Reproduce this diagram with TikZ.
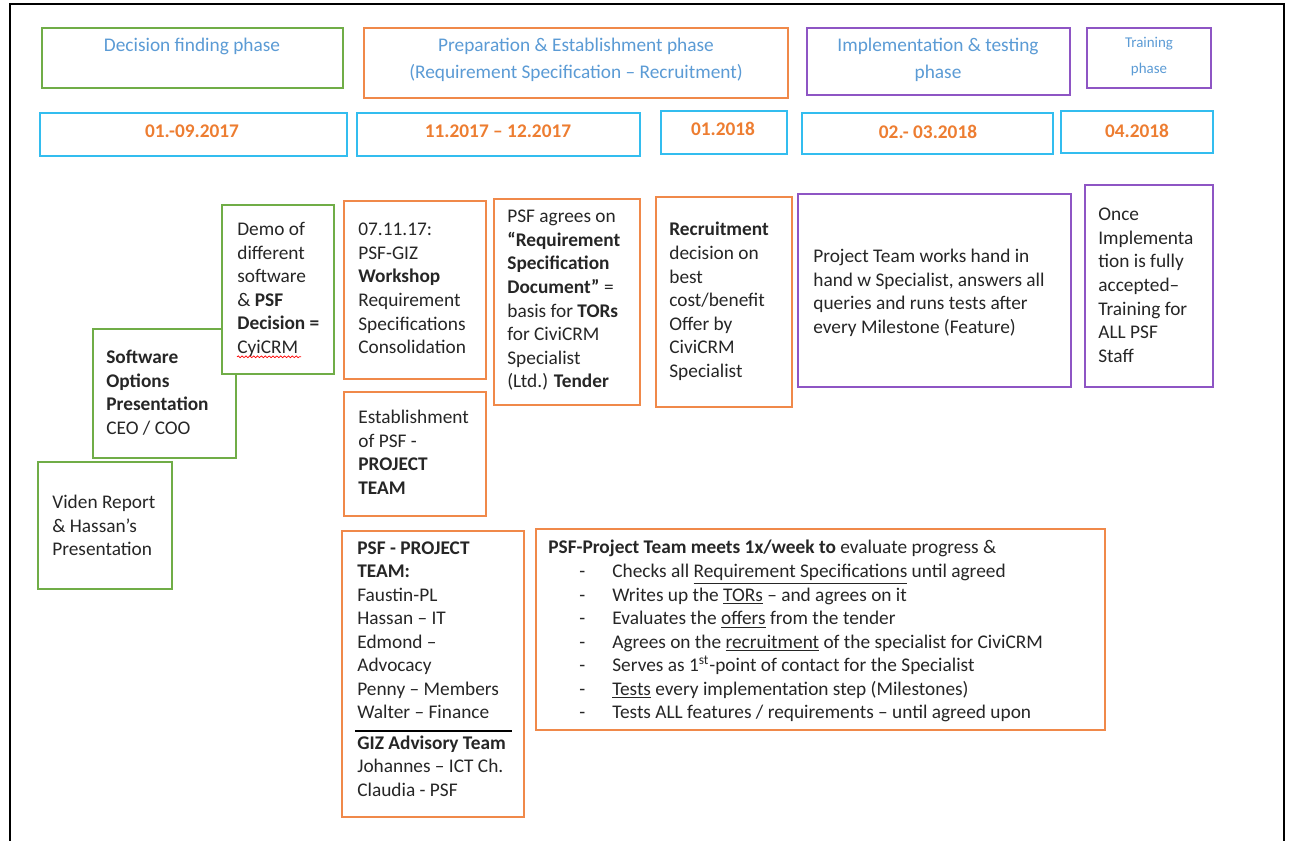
\documentclass[tikz,border=0pt]{standalone}
\usepackage{fontspec}
\setmainfont{Carlito}
\usepackage{tikz}
\usetikzlibrary{decorations.pathmorphing}

\definecolor{boxgreen}{HTML}{70AD47}
\definecolor{boxorange}{HTML}{F0894A}
\definecolor{boxpurple}{HTML}{8E55C4}
\definecolor{boxcyan}{HTML}{33BDEF}
\definecolor{headblue}{HTML}{5B9BD5}
\definecolor{dateorange}{HTML}{ED7D31}
\definecolor{textgray}{HTML}{262626}

\newcommand{\meetitem}{\makebox[1.28cm][l]{\hspace{0.62cm}-}}

\begin{document}
\begin{tikzpicture}[x=0.02cm,y=-0.02cm,
	greenbox/.style={draw=boxgreen,line width=1pt,fill=white},
	orangebox/.style={draw=boxorange,line width=1pt,fill=white},
	purplebox/.style={draw=boxpurple,line width=1pt,fill=white},
	datebox/.style={draw=boxcyan,line width=1pt},
	txt/.style={anchor=north west,inner sep=0pt,align=left,text=textgray,font=\fontsize{11}{13.4}\selectfont},
	phasetxt/.style={anchor=north,inner sep=0pt,align=center,text=headblue,font=\fontsize{11}{15.3}\selectfont},
	datetxt/.style={inner sep=0pt,text=dateorange,font=\fontsize{11}{13}\selectfont\bfseries}]
	  \useasboundingbox (0,0) rectangle (1290,840);
	  \draw[line width=1.6pt] (10,845) -- (10,4) -- (1284,4) -- (1284,845);
	  \draw[greenbox] (42,28) rectangle (343,88);
	  \draw[orangebox] (364,28) rectangle (788,98);
	  \draw[purplebox] (807,28) rectangle (1070,95);
	  \draw[purplebox] (1087,28) rectangle (1211,88);
	  \node[phasetxt] (ph1) at (192,38) {Decision finding phase};
	  \node[phasetxt] (ph2) at (576,38) {Preparation \& Establishment phase\\(Requirement Specification -- Recruitment)};
	  \node[phasetxt] (ph3) at (938,38) {Implementation \& testing\\phase};
	  \node[phasetxt,font=\fontsize{8.5}{14.7}\selectfont] (ph4) at (1149,37) {Training\\phase};
	  \draw[datebox] (40,113) rectangle (347,156);
	  \draw[datebox] (357,113) rectangle (640,156);
	  \draw[datebox] (661,111) rectangle (787,154);
	  \draw[datebox] (802,113) rectangle (1053,154);
	  \draw[datebox] (1061,111) rectangle (1213,153);
	  \node[datetxt] (d1) at (192,131) {01.-09.2017};
	  \node[datetxt] (d2) at (498,131) {11.2017 -- 12.2017};
	  \node[datetxt] (d3) at (723,129) {01.2018};
	  \node[datetxt] (d4) at (928,132) {02.- 03.2018};
	  \node[datetxt] (d5) at (1137,131) {04.2018};
	  \draw[greenbox] (38,462) rectangle (172,589);
	  \draw[greenbox] (93,329) rectangle (236,458);
	  \draw[greenbox] (222,205) rectangle (334,374);
	  \node[txt] (viden) at (52,495) {Viden Report\\\& Hassan’s\\Presentation};
	  \node[txt] (options) at (106,350) {\textbf{Software}\\\textbf{Options}\\\textbf{Presentation}\\CEO / COO};
	  \node[txt] (demo) at (237,222) {Demo of\\different\\software\\\& \textbf{PSF}\\\textbf{Decision =}\\CyiCRM};
	  \draw[red,line width=0.4pt,decorate,decoration={snake,amplitude=0.5pt,segment length=2.2pt}] (demo.south west) -- ++(64,0);
	  \draw[orangebox] (344,201) rectangle (486,379);
	  \draw[orangebox] (344,392) rectangle (486,516);
	  \draw[orangebox] (494,199) rectangle (640,405);
	  \draw[orangebox] (656,197) rectangle (792,407);
	  \node[txt] (workshop) at (358,223) {07.11.17:\\PSF-GIZ\\\textbf{Workshop}\\Requirement\\Specifications\\Consolidation};
	  \node[txt] (establish) at (358,410) {Establishment\\of PSF -\\\textbf{PROJECT}\\\textbf{TEAM}};
	  \node[txt] (agrees) at (507,210) {PSF agrees on\\\textbf{“Requirement}\\\textbf{Specification}\\\textbf{Document”} =\\basis for \textbf{TORs}\\for CiviCRM\\Specialist\\(Ltd.) \textbf{Tender}};
	  \node[txt] (recruit) at (669,222) {\textbf{Recruitment}\\decision on\\best\\cost/benefit\\Offer by\\CiviCRM\\Specialist};
	  \draw[purplebox] (798,194) rectangle (1071,387);
	  \draw[purplebox] (1085,185) rectangle (1213,387);
	  \node[txt] (handin) at (813,249) {Project Team works hand in\\hand w Specialist, answers all\\queries and runs tests after\\every Milestone (Feature)};
	  \node[txt] (training) at (1098,208) {Once\\Implementa\\tion is fully\\accepted--\\Training for\\ALL PSF\\Staff};
	  \draw[orangebox] (342,531) rectangle (524,817);
	  \node[txt] (team) at (357,541) {\textbf{PSF - PROJECT}\\\textbf{TEAM:}\\Faustin-PL\\Hassan -- IT\\Edmond --\\Advocacy\\Penny -- Members\\Walter -- Finance\\[4pt]\textbf{GIZ Advisory Team}\\Johannes -- ICT Ch.\\Claudia - PSF};
	  \draw[line width=0.8pt] (355,731) -- (512,731);
	  \draw[orangebox] (536,529) rectangle (1105,730);
	  \node[txt] (meets) at (548,540) {\textbf{PSF-Project Team meets 1x/week to} evaluate progress \&\\
	    \meetitem Checks all \underline{Requirement Specifications} until agreed\\
	    \meetitem Writes up the \underline{TORs} -- and agrees on it\\
	    \meetitem Evaluates the \underline{offers} from the tender\\
	    \meetitem Agrees on the \underline{recruitment} of the specialist for CiviCRM\\
	    \meetitem Serves as 1\textsuperscript{st}-point of contact for the Specialist\\
	    \meetitem \underline{Tests} every implementation step (Milestones)\\
	    \meetitem Tests ALL features / requirements -- until agreed upon};
	\end{tikzpicture}
\end{document}
